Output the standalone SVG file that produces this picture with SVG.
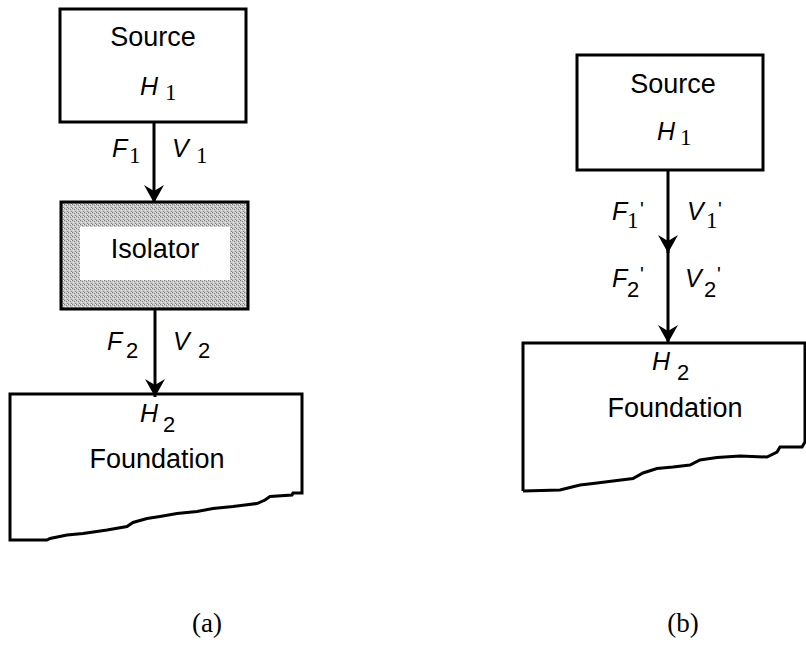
<svg xmlns="http://www.w3.org/2000/svg" width="806" height="652" viewBox="0 0 806 652">
<style>
.box{fill:#fff;stroke:#000;stroke-width:3}
.ln{stroke:#000;stroke-width:3;fill:none}
.t{font-family:"Liberation Sans",Arial,sans-serif;font-size:27px;fill:#000}
.it{font-family:"Liberation Sans",Arial,sans-serif;font-style:italic;font-size:25px;fill:#000}
.sub{font-family:"Liberation Serif","Times New Roman",serif;font-size:23px;fill:#000}
.sub2{font-family:"Liberation Sans",Arial,sans-serif;font-size:22px;fill:#000}
.pr{font-family:"Liberation Sans",Arial,sans-serif;font-size:20px;fill:#000}
.cap{font-family:"Liberation Serif","Times New Roman",serif;font-size:27px;fill:#000}
</style>
<defs>
<marker id="ah" viewBox="0 0 18 20" refX="18" refY="10" markerWidth="18" markerHeight="20" markerUnits="userSpaceOnUse" orient="auto">
<path d="M0,0 L18,10 L0,20 L6,10 z" fill="#000"/>
</marker>
<pattern id="stip" width="4" height="4" patternUnits="userSpaceOnUse">
<rect width="4" height="4" fill="#c8c8c8"/>
<rect x="0" y="0" width="1" height="1" fill="#7a7a7a"/>
<rect x="2" y="1" width="1" height="1" fill="#8a8a8a"/>
<rect x="1" y="2" width="1" height="1" fill="#eeeeee"/>
<rect x="3" y="3" width="1" height="1" fill="#808080"/>
<rect x="3" y="0" width="1" height="1" fill="#f0f0f0"/>
</pattern>
</defs>

<g id="connectors">
<line class="ln" x1="154" y1="122" x2="154" y2="203" marker-end="url(#ah)"/>
<line class="ln" x1="155" y1="309" x2="155" y2="397" marker-end="url(#ah)"/>
<line class="ln" x1="668" y1="170" x2="668" y2="253" marker-end="url(#ah)"/>
<line class="ln" x1="668" y1="250" x2="668" y2="343" marker-end="url(#ah)"/>
</g>

<g id="source-a">
<rect class="box" x="60" y="9" width="186" height="113"/>
<text class="t" x="153" y="46" text-anchor="middle">Source</text>
<text class="it" x="140" y="95" font-size="24">H</text>
<text class="sub" x="165" y="100">1</text>
</g>

<g id="labels-a">
<text class="it" x="112" y="157">F</text>
<text class="sub" x="129" y="163">1</text>
<text class="it" x="172" y="157">V</text>
<text class="sub" x="196" y="163">1</text>
<text class="it" x="107" y="350">F</text>
<text class="sub2" x="126" y="358">2</text>
<text class="it" x="173" y="350">V</text>
<text class="sub2" x="198" y="358">2</text>
</g>

<g id="isolator">
<rect x="61" y="202" width="187" height="107" fill="url(#stip)" stroke="#000" stroke-width="3"/>
<rect x="80" y="227" width="150" height="53" fill="#fff"/>
<text class="t" x="155" y="258" text-anchor="middle" font-size="29">Isolator</text>
</g>

<g id="foundation-a">
<path class="ln" fill="#fff" d="M10,540 L10,394 L302,394 L302,493 L293,493 L292,495 L270,496.5 L265,500 L257,503.5 L245,505 L233,506.5 L213,508.5 L197,511.5 L177,513.5 L160,516.5 L147,518.5 L133,522.5 L127,526.5 L107,530 L83,533.5 L67,535 L50,538.5 L47,540 Z"/>
<text class="it" x="140" y="422" font-size="24">H</text>
<text class="sub2" x="163" y="432">2</text>
<text class="t" x="157" y="468" text-anchor="middle">Foundation</text>
</g>

<g id="source-b">
<rect class="box" x="577" y="55" width="186" height="115"/>
<text class="t" x="673" y="93" text-anchor="middle">Source</text>
<text class="it" x="657" y="140" font-size="24">H</text>
<text class="sub" x="680" y="145">1</text>
</g>

<g id="labels-b">
<text class="it" x="612" y="220">F</text>
<text class="sub" x="627" y="228">1</text>
<text class="pr" x="640" y="216">'</text>
<text class="it" x="687" y="220">V</text>
<text class="sub" x="706" y="228">1</text>
<text class="pr" x="718" y="216">'</text>
<text class="it" x="612" y="287">F</text>
<text class="sub2" x="627" y="297">2</text>
<text class="pr" x="640" y="281">'</text>
<text class="it" x="685" y="287">V</text>
<text class="sub2" x="704" y="297">2</text>
<text class="pr" x="717" y="281">'</text>
</g>

<g id="foundation-b">
<path class="ln" fill="#fff" d="M523,491 L523,343 L808,343 M805,343 L805,442 L802,447 L780,447 L777,452 L767,457 L740,456 L717,457.5 L700,460 L690,465 L673,467 L657,468.5 L643,473 L633,478.5 L613,481 L593,483.5 L580,485 L560,490 L523,491"/>
<text class="it" x="652" y="370" font-size="24">H</text>
<text class="sub2" x="677" y="380">2</text>
<text class="t" x="675" y="417" text-anchor="middle">Foundation</text>
</g>

<g id="captions">
<text class="cap" x="207" y="632" text-anchor="middle">(a)</text>
<text class="cap" x="683" y="632" text-anchor="middle">(b)</text>
</g>
</svg>
